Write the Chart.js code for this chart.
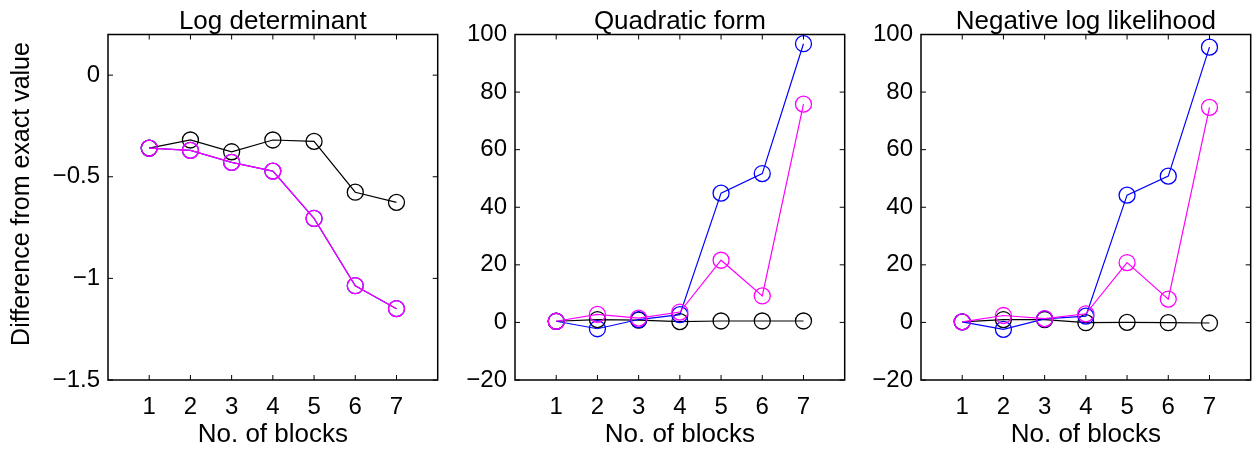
<!DOCTYPE html>
<html>
<head>
<meta charset="utf-8">
<script src="https://cdn.jsdelivr.net/npm/chart.js@4/dist/chart.umd.min.js"></script>
<style>
body { margin: 0; background: #fff; }
.panel { position: absolute; top: 0; width: 447px; height: 449px; }
</style>
</head>
<body>
<div class="panel" style="left:0px"><canvas id="chart1" width="447" height="449"></canvas></div>
<div class="panel" style="left:407px"><canvas id="chart2" width="447" height="449"></canvas></div>
<div class="panel" style="left:813px"><canvas id="chart3" width="447" height="449"></canvas></div>
<script>
var blocks = [1, 2, 3, 4, 5, 6, 7];

// Log determinant
var logdetBlack   = [-0.359, -0.319, -0.377, -0.319, -0.326, -0.576, -0.626];
var logdetBlue    = [-0.359, -0.370, -0.429, -0.472, -0.705, -1.036, -1.149];
var logdetMagenta = [-0.359, -0.370, -0.429, -0.472, -0.705, -1.036, -1.149];

// Quadratic form
var quadBlack   = [0.4, 1.0, 0.8, 0.3, 0.5, 0.5, 0.5];
var quadBlue    = [0.4, -2.2, 1.0, 2.7, 44.9, 51.7, 96.8];
var quadMagenta = [0.4, 2.8, 1.5, 3.6, 21.6, 9.2, 75.8];

// Negative log likelihood
var nllBlack   = [0.2, 1.0, 1.0, -0.1, 0.0, -0.1, -0.2];
var nllBlue    = [0.2, -2.4, 1.2, 2.2, 44.2, 50.8, 95.6];
var nllMagenta = [0.2, 2.4, 1.3, 3.0, 20.8, 8.1, 74.7];

var titles = ['Log determinant', 'Quadratic form', 'Negative log likelihood'];
var xLabel = 'No. of blocks';
var yLabel = 'Difference from exact value';
var logdetTicks = [-1.5, -1, -0.5, 0];
var percentTicks = [-20, 0, 20, 40, 60, 80, 100];

var FONT = "'Liberation Sans', Arial, sans-serif";

// MATLAB style box with inward tick marks on all four sides
var boxPlugin = {
    id: 'box',
    afterDraw: function(chart) {
        var a = chart.chartArea, ctx = chart.ctx;
        var xs = chart.scales.x, ys = chart.scales.y;
        ctx.save();
        ctx.strokeStyle = '#000';
        ctx.lineWidth = 1.5;
        ctx.strokeRect(a.left, a.top, a.right - a.left, a.bottom - a.top);
        ctx.lineWidth = 1;
        ctx.beginPath();
        xs.ticks.forEach(function(t) {
            var px = xs.getPixelForValue(t.value);
            ctx.moveTo(px, a.bottom); ctx.lineTo(px, a.bottom - 5);
            ctx.moveTo(px, a.top); ctx.lineTo(px, a.top + 5);
        });
        ys.ticks.forEach(function(t) {
            var py = ys.getPixelForValue(t.value);
            ctx.moveTo(a.left, py); ctx.lineTo(a.left + 5, py);
            ctx.moveTo(a.right, py); ctx.lineTo(a.right - 5, py);
        });
        ctx.stroke();
        // shared y label, only on the first panel
        if (chart.options.plugins.box && chart.options.plugins.box.yLabel) {
            ctx.translate(22.5, 194);
            ctx.rotate(-Math.PI / 2);
            ctx.fillStyle = '#000';
            ctx.font = '25px ' + FONT;
            ctx.textAlign = 'center';
            ctx.textBaseline = 'middle';
            ctx.fillText(chart.options.plugins.box.yLabel, 0, 0);
        }
        ctx.restore();
    }
};

function series(values, color) {
    return {
        data: blocks.map(function(b, i) { return {x: b, y: values[i]}; }),
        borderColor: color,
        borderWidth: 1.2,
        pointRadius: 8,
        pointBorderWidth: 1.3,
        pointBorderColor: color,
        pointBackgroundColor: 'rgba(0,0,0,0)',
        tension: 0,
        fill: false
    };
}

function makeChart(id, title, lists, yMin, yMax, yTicks, showYLabel) {
    var ctx = document.getElementById(id).getContext('2d');
    return new Chart(ctx, {
        type: 'line',
        data: {
            // first dataset is drawn on top
            datasets: [series(lists[2], '#ff00ff'), series(lists[1], '#0000ff'), series(lists[0], '#000000')]
        },
        options: {
            responsive: false,
            animation: false,
            events: [],
            layout: { padding: { left: 0, right: 1, top: 0, bottom: 0 } },
            plugins: {
                legend: { display: false },
                tooltip: { enabled: false },
                box: { yLabel: showYLabel ? yLabel : null }
            },
            scales: {
                // top axis only carries the panel title, centred over the plot box
                top: {
                    type: 'linear',
                    position: 'top',
                    min: 0,
                    max: 8,
                    afterFit: function(scale) { scale.height = 34.5; },
                    grid: { display: false, drawTicks: false },
                    border: { display: false },
                    ticks: { display: false },
                    title: {
                        display: true,
                        text: title,
                        color: '#000',
                        font: { family: FONT, size: 26, lineHeight: 1 },
                        padding: { top: 9, bottom: 0 }
                    }
                },
                x: {
                    type: 'linear',
                    position: 'bottom',
                    min: 0,
                    max: 8,
                    afterBuildTicks: function(scale) {
                        scale.ticks = blocks.map(function(v) { return {value: v}; });
                    },
                    afterFit: function(scale) { scale.height = 69; },
                    grid: { display: false, drawTicks: false },
                    border: { display: false },
                    ticks: { color: '#000', font: { family: FONT, size: 24 }, padding: 13, maxRotation: 0 },
                    title: {
                        display: true,
                        text: xLabel,
                        color: '#000',
                        font: { family: FONT, size: 26, lineHeight: 1 },
                        padding: { top: 0, bottom: 1 }
                    }
                },
                y: {
                    type: 'linear',
                    min: yMin,
                    max: yMax,
                    afterBuildTicks: function(scale) {
                        scale.ticks = yTicks.map(function(v) { return {value: v}; });
                    },
                    afterFit: function(scale) { scale.width = 108; },
                    grid: { display: false, drawTicks: false },
                    border: { display: false },
                    ticks: {
                        color: '#000',
                        font: { family: FONT, size: 24 },
                        padding: 8,
                        callback: function(v) { return String(v).replace('-', '\u2212'); }
                    }
                }
            }
        },
        plugins: [boxPlugin]
    });
}

makeChart('chart1', titles[0], [logdetBlack, logdetBlue, logdetMagenta], -1.5, 0.2, logdetTicks, true);
makeChart('chart2', titles[1], [quadBlack, quadBlue, quadMagenta], -20, 100, percentTicks, false);
makeChart('chart3', titles[2], [nllBlack, nllBlue, nllMagenta], -20, 100, percentTicks, false);
</script>
</body>
</html>
